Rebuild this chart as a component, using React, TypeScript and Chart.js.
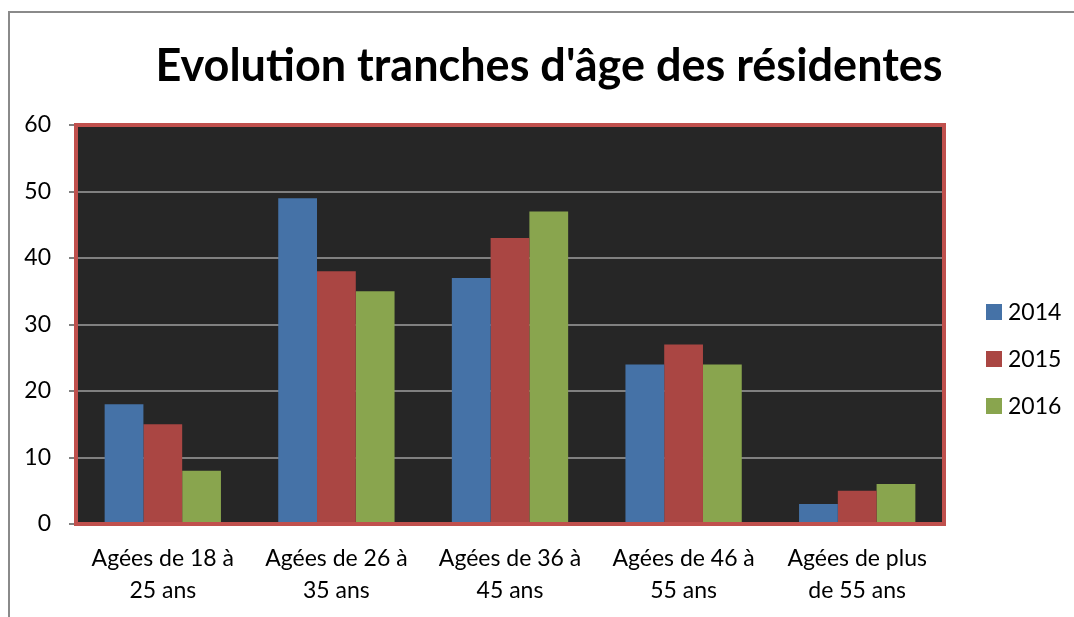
import React, { useEffect, useRef } from "react";
import { Chart, registerables } from "chart.js";

Chart.register(...registerables);

const titleText = "Evolution tranches d'âge des résidentes";
const categories: string[][] = [
  ["Agées de 18 à", "25 ans"],
  ["Agées de 26 à", "35 ans"],
  ["Agées de 36 à", "45 ans"],
  ["Agées de 46 à", "55 ans"],
  ["Agées de plus", "de 55 ans"],
];
const seriesNames = ["2014", "2015", "2016"];
const values2014 = [18, 49, 37, 24, 3];
const values2015 = [15, 38, 43, 27, 5];
const values2016 = [8, 35, 47, 24, 6];
const seriesColors = ["#4572a7", "#aa4643", "#89a54e"];
const yTicks = [0, 10, 20, 30, 40, 50, 60];

const FONT = "Lato, 'Open Sans', sans-serif";

const decorPlugin = {
  id: "decor",
  beforeDraw(chart: any) {
    const { ctx, chartArea } = chart;
    ctx.save();
    ctx.fillStyle = "#ffffff";
    ctx.fillRect(0, 0, chart.width, chart.height);
    // outer frame
    ctx.strokeStyle = "#8a8a8a";
    ctx.lineWidth = 2;
    ctx.beginPath();
    ctx.moveTo(9, chart.height);
    ctx.lineTo(9, 12);
    ctx.lineTo(chart.width, 12);
    ctx.stroke();
    // title
    ctx.fillStyle = "#000";
    ctx.font = `bold 45px ${FONT}`;
    ctx.textAlign = "center";
    ctx.textBaseline = "middle";
    ctx.fillText(titleText, 549, 66);
    // plot background
    ctx.fillStyle = "#262626";
    ctx.fillRect(chartArea.left, chartArea.top, chartArea.right - chartArea.left, chartArea.bottom - chartArea.top);
    ctx.restore();
  },
  afterDraw(chart: any) {
    const { ctx, chartArea } = chart;
    ctx.save();
    ctx.strokeStyle = "#c0504d";
    ctx.lineWidth = 4;
    ctx.strokeRect(chartArea.left, chartArea.top, chartArea.right - chartArea.left, chartArea.bottom - chartArea.top);
    // legend
    ctx.font = `23px ${FONT}`;
    ctx.textBaseline = "middle";
    ctx.textAlign = "left";
    const ys = [312, 359, 406];
    chart.data.datasets.forEach((ds: any, i: number) => {
      ctx.fillStyle = ds.backgroundColor;
      ctx.fillRect(986, ys[i] - 8, 16, 16);
      ctx.fillStyle = "#000";
      ctx.fillText(ds.label, 1008, ys[i] + 1);
    });
    ctx.restore();
  },
};

export default function App() {
  const ref = useRef<HTMLCanvasElement>(null);
  useEffect(() => {
    document.body.style.margin = "0";
    const chart = new Chart(ref.current!, {
      type: "bar",
      data: {
        labels: categories,
        datasets: [values2014, values2015, values2016].map((v, i) => ({
          label: seriesNames[i],
          data: v,
          backgroundColor: seriesColors[i],
          barPercentage: 1,
          categoryPercentage: 0.67,
        })),
      },
      options: {
        responsive: false,
        animation: false,
        devicePixelRatio: 1,
        layout: { padding: { left: 0, right: 130, top: 125, bottom: 0 } },
        plugins: {
          legend: { display: false },
          tooltip: { enabled: false },
          title: { display: false },
        },
        scales: {
          x: {
            grid: { display: false, drawTicks: false },
            border: { display: true, color: "#808080", width: 2 },
            ticks: {
              color: "#000",
              font: { family: FONT, size: 23, lineHeight: 1.4 },
              padding: 18,
              maxRotation: 0,
              autoSkip: false,
            },
            afterFit(scale: any) {
              scale.height = 93;
            },
          },
          y: {
            min: 0,
            max: 60,
            afterBuildTicks(scale: any) {
              scale.ticks = yTicks.map((v) => ({ value: v }));
            },
            grid: {
              color: "#808080",
              lineWidth: 2,
              tickLength: 7,
              drawTicks: true,
            },
            border: { display: true, color: "#808080", width: 2 },
            ticks: {
              color: "#000",
              font: { family: FONT, size: 23 },
              padding: 18,
            },
            afterFit(scale: any) {
              scale.width = 76;
            },
          },
        },
      },
      plugins: [decorPlugin],
    });
    return () => chart.destroy();
  }, []);
  return <canvas ref={ref} width={1074} height={617} style={{ display: "block" }} />;
}
